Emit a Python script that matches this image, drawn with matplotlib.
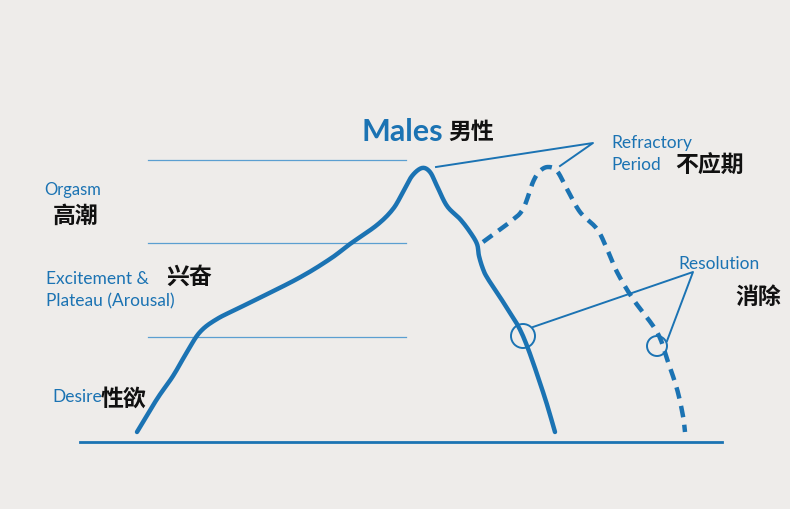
import numpy as np
import matplotlib
matplotlib.use("Agg")
import matplotlib.pyplot as plt
from matplotlib.patches import Circle

plt.rcParams['font.family'] = ['Lato', 'Noto Sans CJK SC', 'DejaVu Sans']

# curve points in picture coordinates (x right, y down)
solid_x = [137, 157, 173, 187, 200, 217, 243, 297, 330, 350, 377, 393, 403, 412, 422, 430, 437, 447, 460, 470, 477, 479, 483, 488, 505, 523, 543, 555]
solid_y = [433, 400, 377, 353, 333, 320, 307, 280, 260, 245, 226, 210, 193, 177, 169, 173, 187, 207, 220, 233, 245, 257, 270, 280, 306, 337, 393, 433]
dash_x = [483, 510, 523, 533, 540, 548, 557, 567, 580, 597, 607, 617, 633, 657, 667, 677, 683, 685]
dash_y = [243, 223, 210, 183, 172, 168, 172, 190, 213, 230, 250, 273, 300, 333, 360, 390, 417, 433]
level_y = [161, 244, 338]
refractory_pts = [(436, 168), (593, 144), (560, 167)]
resolution_pts = [(533, 328), (693, 273), (667, 342)]

blue = '#1b73b3'
light = '#5b9fd1'
bg = '#eeecea'


def smooth(xs, ys, n=12):
    # catmull-rom through the points, just for drawing
    p = np.column_stack([xs, ys]).astype(float)
    p = np.vstack([p[0], p, p[-1]])
    out = []
    t = np.linspace(0, 1, n, endpoint=False)[:, None]
    for i in range(1, len(p) - 2):
        p0, p1, p2, p3 = p[i - 1], p[i], p[i + 1], p[i + 2]
        seg = 0.5 * ((2 * p1) + (-p0 + p2) * t + (2 * p0 - 5 * p1 + 4 * p2 - p3) * t**2
                     + (-p0 + 3 * p1 - 3 * p2 + p3) * t**3)
        out.append(seg)
    out.append(p[-2][None, :])
    out = np.vstack(out)
    return out[:, 0], out[:, 1]


fig = plt.figure(figsize=(7.9, 5.1), dpi=100, facecolor=bg)
ax = fig.add_axes([0, 0, 1, 1], facecolor=bg)
ax.set_xlim(0, 790)
ax.set_ylim(510, 0)
ax.axis('off')

for y in level_y:
    ax.plot([148, 406], [y, y], color=light, lw=0.9)
ax.plot([80, 722], [443, 443], color=blue, lw=2)

sx, sy = smooth(solid_x, solid_y)
ax.plot(sx, sy, color=blue, lw=3.2, solid_capstyle='round', solid_joinstyle='round')
dx, dy = smooth(dash_x, dash_y)
ax.plot(dx, dy, color=blue, lw=3.2, dashes=(2.6, 1.7))

ax.plot(*zip(*refractory_pts), color=blue, lw=1.4)
ax.plot(*zip(*resolution_pts), color=blue, lw=1.4)
ax.add_patch(Circle((523, 337), 12, fill=False, ec=blue, lw=1.4))
ax.add_patch(Circle((657, 347), 10, fill=False, ec=blue, lw=1.4))

bt = dict(color=blue, va='baseline', ha='left')
ct = dict(color='#111111', va='baseline', ha='left', family=['Noto Sans CJK SC', 'DejaVu Sans'], fontweight='bold')

ax.text(361, 141, 'Males', fontsize=22, fontweight='bold', **bt)
ax.text(448, 139, '男性', fontsize=16.5, **ct)
ax.text(611, 148, 'Refractory', fontsize=12.5, **bt)
ax.text(611, 170, 'Period', fontsize=12.5, **bt)
ax.text(675, 173, '不应期', fontsize=16.5, **ct)
ax.text(678, 269, 'Resolution', fontsize=12.5, **bt)
ax.text(735, 304, '消除', fontsize=16.5, **ct)
ax.text(44, 195, 'Orgasm', fontsize=12, **bt)
ax.text(53, 223, '高潮', fontsize=16.5, **ct)
ax.text(46, 284, 'Excitement &', fontsize=12.5, **bt)
ax.text(166, 284, '兴奋', fontsize=16.5, **ct)
ax.text(46, 306, 'Plateau (Arousal)', fontsize=12.5, **bt)
ax.text(52, 402, 'Desire', fontsize=12.5, **bt)
ax.text(101, 406, '性欲', fontsize=16.5, **ct)

fig.savefig('out.png', dpi=100, facecolor=bg)
